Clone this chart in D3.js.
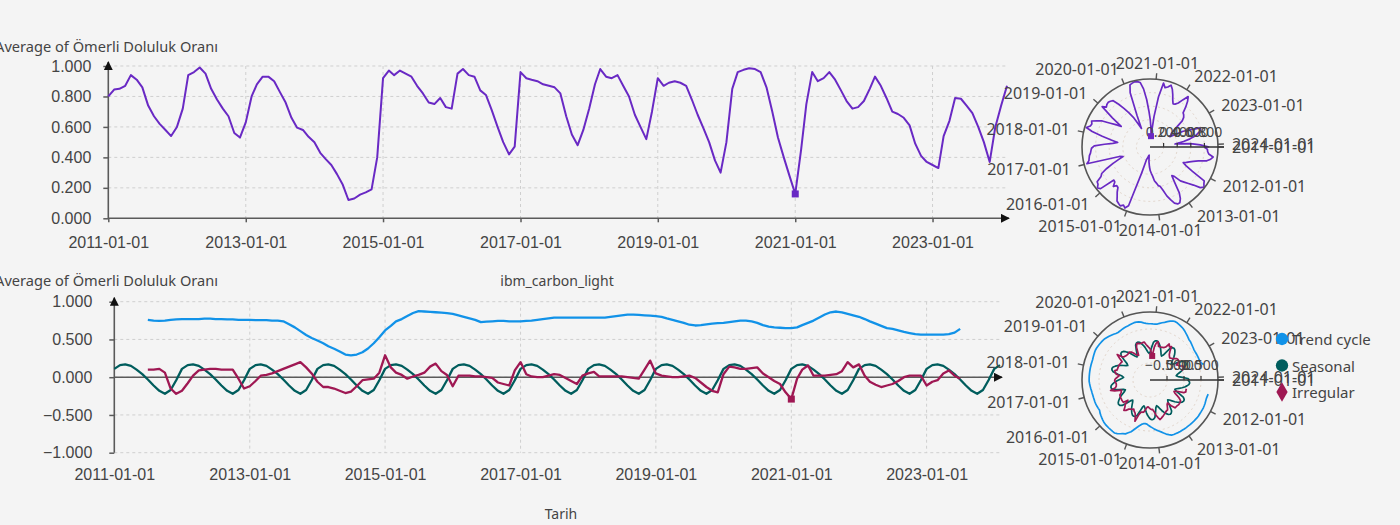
<!DOCTYPE html>
<html>
<head>
<meta charset="utf-8">
<script src="https://cdn.jsdelivr.net/npm/d3@7"></script>
<style>
  html, body { margin: 0; padding: 0; background: #f4f4f4; }
  svg { display: block; font-family: "Noto Sans", "Open Sans", sans-serif; }
</style>
</head>
<body>
<svg id="chart" width="1400" height="525"></svg>
<script>
// ---- Data -------------------------------------------------------------
// Monthly reservoir fill ratio, 2011-01 .. 2024-02
const doluluk = [
  0.80, 0.845, 0.85, 0.87, 0.94, 0.91, 0.86, 0.74, 0.67, 0.62, 0.58, 0.54,   // 2011
  0.60, 0.72, 0.94, 0.96, 0.99, 0.95, 0.85, 0.78, 0.72, 0.67, 0.56, 0.53,    // 2012
  0.63, 0.80, 0.88, 0.93, 0.93, 0.90, 0.83, 0.76, 0.66, 0.595, 0.58, 0.535,  // 2013
  0.50, 0.43, 0.39, 0.35, 0.29, 0.22, 0.12, 0.13, 0.155, 0.17, 0.19, 0.40,   // 2014
  0.92, 0.97, 0.94, 0.97, 0.95, 0.93, 0.87, 0.82, 0.76, 0.75, 0.79, 0.73,    // 2015
  0.72, 0.95, 0.98, 0.94, 0.93, 0.84, 0.81, 0.71, 0.60, 0.50, 0.42, 0.47,    // 2016
  0.96, 0.92, 0.91, 0.90, 0.88, 0.87, 0.86, 0.82, 0.67, 0.55, 0.48, 0.58,    // 2017
  0.72, 0.88, 0.98, 0.93, 0.92, 0.94, 0.87, 0.80, 0.68, 0.60, 0.52, 0.70,    // 2018
  0.92, 0.87, 0.89, 0.90, 0.89, 0.87, 0.78, 0.68, 0.59, 0.50, 0.38, 0.30,    // 2019
  0.50, 0.85, 0.96, 0.975, 0.985, 0.98, 0.96, 0.86, 0.70, 0.53, 0.40, 0.28,  // 2020
  0.16, 0.45, 0.75, 0.96, 0.90, 0.92, 0.96, 0.91, 0.84, 0.77, 0.72, 0.73,    // 2021
  0.77, 0.85, 0.93, 0.87, 0.79, 0.70, 0.685, 0.66, 0.61, 0.49, 0.41, 0.37,   // 2022
  0.35, 0.33, 0.54, 0.64, 0.79, 0.785, 0.74, 0.69, 0.60, 0.50, 0.37, 0.60,   // 2023
  0.74, 0.87                                                                 // 2024
];

// Decomposition: trend cycle, 2011-07 .. 2023-07
const trendCycle = [
  0.76, 0.75, 0.745, 0.75, 0.76, 0.765,
  0.77, 0.77, 0.77, 0.77, 0.775, 0.775, 0.77, 0.77, 0.765, 0.765, 0.76, 0.76,
  0.76, 0.755, 0.755, 0.755, 0.75, 0.75, 0.74, 0.70, 0.66, 0.61, 0.56, 0.52,
  0.486, 0.45, 0.41, 0.376, 0.34, 0.30, 0.29, 0.30, 0.33, 0.38, 0.45, 0.53,
  0.62, 0.68, 0.74, 0.77, 0.81, 0.85, 0.875, 0.87, 0.865, 0.86, 0.855, 0.85,
  0.84, 0.82, 0.80, 0.78, 0.76, 0.73, 0.735, 0.74, 0.745, 0.745, 0.74, 0.74,
  0.74, 0.745, 0.75, 0.76, 0.77, 0.78, 0.79, 0.79, 0.79, 0.79, 0.79, 0.79,
  0.79, 0.79, 0.79, 0.79, 0.80, 0.81, 0.82, 0.83, 0.83, 0.825, 0.82, 0.815,
  0.81, 0.80, 0.78, 0.76, 0.74, 0.72, 0.695, 0.685, 0.69, 0.70, 0.71, 0.715,
  0.72, 0.73, 0.74, 0.75, 0.75, 0.74, 0.72, 0.69, 0.67, 0.66, 0.655, 0.65,
  0.65, 0.66, 0.69, 0.72, 0.75, 0.79, 0.83, 0.86, 0.87, 0.86, 0.84, 0.82,
  0.80, 0.77, 0.74, 0.71, 0.68, 0.65, 0.64, 0.62, 0.60, 0.585, 0.57, 0.565,
  0.565, 0.565, 0.565, 0.565, 0.57, 0.59, 0.64
];

// Decomposition: seasonal, 2011-01 .. 2024-02
const seasonal = [
  0.11, 0.16, 0.17, 0.15, 0.10, 0.04, -0.03, -0.11, -0.18, -0.22, -0.17, -0.04,
  0.11, 0.16, 0.17, 0.15, 0.10, 0.04, -0.03, -0.11, -0.18, -0.22, -0.17, -0.04,
  0.11, 0.16, 0.17, 0.15, 0.10, 0.04, -0.03, -0.11, -0.18, -0.22, -0.17, -0.04,
  0.11, 0.16, 0.17, 0.15, 0.10, 0.04, -0.03, -0.11, -0.18, -0.22, -0.17, -0.04,
  0.11, 0.16, 0.17, 0.15, 0.10, 0.04, -0.03, -0.11, -0.18, -0.22, -0.17, -0.04,
  0.11, 0.16, 0.17, 0.15, 0.10, 0.04, -0.03, -0.11, -0.18, -0.22, -0.17, -0.04,
  0.11, 0.16, 0.17, 0.15, 0.10, 0.04, -0.03, -0.11, -0.18, -0.22, -0.17, -0.04,
  0.11, 0.16, 0.17, 0.15, 0.10, 0.04, -0.03, -0.11, -0.18, -0.22, -0.17, -0.04,
  0.11, 0.16, 0.17, 0.15, 0.10, 0.04, -0.03, -0.11, -0.18, -0.22, -0.17, -0.04,
  0.11, 0.16, 0.17, 0.15, 0.10, 0.04, -0.03, -0.11, -0.18, -0.22, -0.17, -0.04,
  0.11, 0.16, 0.17, 0.15, 0.10, 0.04, -0.03, -0.11, -0.18, -0.22, -0.17, -0.04,
  0.11, 0.16, 0.17, 0.15, 0.10, 0.04, -0.03, -0.11, -0.18, -0.22, -0.17, -0.04,
  0.11, 0.16, 0.17, 0.15, 0.10, 0.04, -0.03, -0.11, -0.18, -0.22, -0.17, -0.04,
  0.11, 0.16
];

// Decomposition: irregular, 2011-07 .. 2023-07
const irregular = [
  0.10, 0.10, 0.11, 0.06, -0.15, -0.22,
  -0.18, -0.08, 0.02, 0.09, 0.10, 0.11, 0.11, 0.10, 0.10, 0.10, -0.02, -0.15,
  -0.12, -0.05, 0.02, 0.03, 0.05, 0.08, 0.11, 0.14, 0.17, 0.20, 0.13, 0.05,
  -0.06, -0.13, -0.13, -0.15, -0.18, -0.21, -0.19, -0.12, -0.04, -0.03, -0.02, 0.06,
  0.29, 0.13, 0.06, 0.03, -0.02, 0.01, 0.03, 0.06, 0.14, 0.18, 0.08, 0.03,
  -0.12, 0.02, 0.02, 0.02, 0.01, 0.01, 0.00, -0.01, -0.07, -0.09, -0.11, 0.09,
  0.20, 0.04, 0.01, 0.00, 0.00, 0.02, 0.04, 0.03, -0.01, -0.05, -0.09, 0.02,
  0.05, 0.07, 0.01, 0.01, 0.01, 0.01, 0.01, 0.00, -0.01, -0.02, 0.10, 0.22,
  0.05, 0.02, 0.01, 0.00, 0.00, 0.01, 0.02, -0.01, -0.07, -0.13, -0.18, -0.20,
  0.04, 0.14, 0.13, 0.11, 0.11, 0.12, 0.13, 0.05, 0.00, -0.05, -0.09, -0.20,
  -0.29, -0.02, 0.10, 0.155, 0.02, 0.02, 0.02, 0.03, 0.04, 0.08, 0.20, 0.13,
  0.17, 0.02, -0.06, -0.10, -0.13, -0.11, -0.09, -0.05, 0.00, 0.02, 0.02, 0.02,
  -0.11, -0.06, -0.04, 0.05, 0.09, 0.02, -0.02
];

const xTickLabels = ["2011-01-01", "2013-01-01", "2015-01-01", "2017-01-01", "2019-01-01", "2021-01-01", "2023-01-01"];
const yTicksTop = [0, 0.2, 0.4, 0.6, 0.8, 1.0];
const yTicksBottom = [-1, -0.5, 0, 0.5, 1];
const polarYearLabels = ["2011-01-01", "2012-01-01", "2013-01-01", "2014-01-01", "2015-01-01", "2016-01-01",
  "2017-01-01", "2018-01-01", "2019-01-01", "2020-01-01", "2021-01-01", "2022-01-01", "2023-01-01", "2024-01-01"];
const polarRadialTop = [0.2, 0.4, 0.6, 0.8];
const polarRadialBottom = [-0.5, 0, 0.5];
const legendLabels = ["Trend cycle", "Seasonal", "Irregular"];
const markedDate = "2021-01-01";

// ---- Setup --------------------------------------------------------------
const parse = d3.utcParse("%Y-%m-%d");
const fmtDate = d3.utcFormat("%Y-%m-%d");
const fmtVal = d3.format(".3f");
const months = d3.utcMonth.range(parse("2011-01-01"), parse("2024-03-01"));
const decompMonths = d3.utcMonth.range(parse("2011-07-01"), parse("2023-08-01"));
const timeDomain = [months[0], months[months.length - 1]];

const COLORS = { purple: "#6929c4", trend: "#1192e8", seasonal: "#005d5d", irregular: "#9f1853" };
const TEXT = "#444";
const AXIS = "#5a5a5a";
const GRID = "#cfcfcf";

const zip = (dates, vals) => vals.map((v, i) => ({ date: dates[i], value: v }));
const mainSeries = zip(months, doluluk);
const series = [
  { name: legendLabels[0], color: COLORS.trend, data: zip(decompMonths, trendCycle) },
  { name: legendLabels[1], color: COLORS.seasonal, data: zip(months, seasonal) },
  { name: legendLabels[2], color: COLORS.irregular, data: zip(decompMonths, irregular) }
];

const svg = d3.select("#chart");
const defs = svg.append("defs");
defs.append("marker").attr("id", "arrow").attr("viewBox", "0 0 10 10")
  .attr("refX", 9).attr("refY", 5).attr("markerWidth", 9).attr("markerHeight", 9)
  .attr("markerUnits", "userSpaceOnUse").attr("orient", "auto")
  .append("path").attr("d", "M0,0 L10,5 L0,10 z").attr("fill", "#111");

// ---- Cartesian panels --------------------------------------------------
function cartesian(cfg) {
  const g = svg.append("g");
  const x = d3.scaleUtc().domain(timeDomain).range(cfg.xRange);
  const y = d3.scaleLinear().domain(cfg.yDomain).range(cfg.yRange);
  const tickDates = xTickLabels.map(parse);

  // grid
  g.append("g").selectAll("line").data(cfg.yTicks.filter(v => v !== cfg.yDomain[0] || cfg.gridAtMin))
    .join("line")
    .attr("x1", cfg.xRange[0]).attr("x2", cfg.xRange[1])
    .attr("y1", d => y(d)).attr("y2", d => y(d))
    .attr("stroke", GRID).attr("stroke-dasharray", "3,3");
  g.append("g").selectAll("line").data(tickDates.slice(1))
    .join("line")
    .attr("x1", d => x(d)).attr("x2", d => x(d))
    .attr("y1", cfg.yRange[1]).attr("y2", cfg.yRange[0])
    .attr("stroke", GRID).attr("stroke-dasharray", "3,3");

  // x axis labels
  const xAxis = d3.axisBottom(x).tickValues(tickDates).tickFormat(fmtDate)
    .tickSizeInner(cfg.xTickSize).tickSizeOuter(0).tickPadding(cfg.xPad);
  const gx = g.append("g").attr("transform", `translate(0,${cfg.xAxisY})`).call(xAxis);
  gx.select(".domain").remove();
  gx.selectAll(".tick line").attr("stroke", AXIS).attr("stroke-width", 1.5);
  gx.selectAll(".tick text").attr("fill", TEXT).style("font-size", "16px");

  // y axis
  const yAxis = d3.axisLeft(y).tickValues(cfg.yTicks).tickFormat(fmtVal)
    .tickSizeInner(5).tickSizeOuter(0).tickPadding(cfg.yPad);
  const gy = g.append("g").attr("transform", `translate(${cfg.xRange[0]},0)`).call(yAxis);
  gy.select(".domain").remove();
  gy.selectAll(".tick line").attr("stroke", AXIS).attr("stroke-width", 1.5);
  gy.selectAll(".tick text").attr("fill", TEXT).style("font-size", "16px");

  // axis lines with arrow heads
  g.append("line")
    .attr("x1", cfg.xRange[0]).attr("x2", cfg.xRange[0])
    .attr("y1", cfg.yRange[0]).attr("y2", cfg.yRange[1] - 4)
    .attr("stroke", AXIS).attr("stroke-width", 1.6).attr("marker-end", "url(#arrow)");
  g.append("line")
    .attr("x1", cfg.xRange[0]).attr("x2", cfg.xRange[1] + 2)
    .attr("y1", y(cfg.baseline)).attr("y2", y(cfg.baseline))
    .attr("stroke", AXIS).attr("stroke-width", 1.6).attr("marker-end", "url(#arrow)");

  // y title
  g.append("text").attr("x", 218).attr("y", cfg.titleY)
    .attr("text-anchor", "end").attr("dominant-baseline", "central")
    .attr("fill", TEXT).style("font-size", "14.6px")
    .text("Average of Ömerli Doluluk Oranı");

  const line = d3.line().x(d => x(d.date)).y(d => y(d.value));
  cfg.lines.forEach(s => {
    g.append("path").datum(s.data).attr("d", line)
      .attr("fill", "none").attr("stroke", s.color).attr("stroke-width", s.width)
      .attr("stroke-linejoin", "round");
  });
  const md = parse(markedDate);
  const mk = cfg.marker;
  const mp = mk.data.find(d => +d.date === +md);
  g.append("rect").attr("x", x(mp.date) - 3.5).attr("y", y(mp.value) - 3.5)
    .attr("width", 7).attr("height", 7).attr("fill", mk.color);
  return { x, y };
}

cartesian({
  xRange: [108.3, 1007], yDomain: [0, 1], yRange: [218.3, 66], yTicks: yTicksTop,
  xAxisY: 218.3, xTickSize: 4, xPad: 14, yPad: 12, baseline: 0, titleY: 46,
  lines: [{ data: mainSeries, color: COLORS.purple, width: 2 }],
  marker: { data: mainSeries, color: COLORS.purple }
});

cartesian({
  xRange: [114.3, 1000], yDomain: [-1, 1], yRange: [452.7, 301.7], yTicks: yTicksBottom,
  gridAtMin: true,
  xAxisY: 452.7, xTickSize: 0, xPad: 16, yPad: 17, baseline: 0, titleY: 280,
  lines: series.map(s => ({ data: s.data, color: s.color, width: 2.3 })),
  marker: { data: series[2].data, color: COLORS.irregular }
});

svg.append("text").attr("x", 557).attr("y", 280).attr("text-anchor", "middle")
  .attr("dominant-baseline", "central").attr("fill", TEXT).style("font-size", "14px")
  .text("ibm_carbon_light");
svg.append("text").attr("x", 561).attr("y", 513).attr("text-anchor", "middle")
  .attr("dominant-baseline", "central").attr("fill", TEXT).style("font-size", "14px")
  .text("Tarih");

// ---- Polar panels ----------------------------------------------------------
function polar(cfg) {
  const { cx, cy, r } = cfg;
  const g = svg.append("g").attr("transform", `translate(${cx},${cy})`);
  const angle = d3.scaleUtc().domain(timeDomain).range([0, 2 * Math.PI]);
  const rad = d3.scaleLinear().domain(cfg.rDomain).range([0, r]);

  // grid circles
  g.append("g").selectAll("circle").data(cfg.radialTicks)
    .join("circle").attr("r", d => rad(d)).attr("fill", "none")
    .attr("stroke", "#e2d6cc").attr("stroke-dasharray", "2,3");

  // series
  const line = d3.lineRadial().angle(d => angle(d.date) + Math.PI / 2).radius(d => rad(d.value));
  cfg.lines.forEach(s => {
    g.append("path").datum(s.data).attr("d", line)
      .attr("fill", "none").attr("stroke", s.color).attr("stroke-width", 1.7)
      .attr("stroke-linejoin", "round");
  });

  // outer ring and year ticks
  g.append("circle").attr("r", r).attr("fill", "none").attr("stroke", "#555").attr("stroke-width", 1.6);
  const years = polarYearLabels.map(parse);
  g.append("g").selectAll("line").data(years).join("line")
    .attr("x1", d => r * Math.cos(angle(d))).attr("y1", d => r * Math.sin(angle(d)))
    .attr("x2", d => (r + 6) * Math.cos(angle(d))).attr("y2", d => (r + 6) * Math.sin(angle(d)))
    .attr("stroke", "#555").attr("stroke-width", 1.4);
  g.append("g").selectAll("text").data(years).join("text")
    .attr("x", d => (r + 14) * Math.cos(angle(d)))
    .attr("y", d => (r + 16) * Math.sin(angle(d)))
    .attr("text-anchor", d => {
      const c = Math.cos(angle(d));
      return c > 0.3 ? "start" : c < -0.3 ? "end" : "middle";
    })
    .attr("dominant-baseline", "central").attr("fill", TEXT).style("font-size", "16px")
    .text(d => fmtDate(d));

  // radial axis
  g.append("line").attr("x1", 0).attr("y1", 0).attr("x2", r + 6).attr("y2", 0)
    .attr("stroke", "#333").attr("stroke-width", 1.5);
  g.append("g").selectAll("line").data(cfg.radialTicks).join("line")
    .attr("x1", d => rad(d)).attr("x2", d => rad(d)).attr("y1", 0).attr("y2", -4)
    .attr("stroke", "#333").attr("stroke-width", 1.2);
  g.append("g").selectAll("text").data(cfg.radialTicks).join("text")
    .attr("x", d => rad(d)).attr("y", -16).attr("text-anchor", "middle")
    .attr("dominant-baseline", "central").attr("fill", TEXT).style("font-size", "14px")
    .text(d => fmtVal(d));

  // marked point
  const md = parse(markedDate);
  const mp = cfg.marker.data.find(d => +d.date === +md);
  const a = angle(mp.date), rr = rad(mp.value);
  g.append("rect").attr("x", rr * Math.cos(a) - 3).attr("y", rr * Math.sin(a) - 3)
    .attr("width", 6).attr("height", 6).attr("fill", cfg.marker.color);
}

polar({
  cx: 1150, cy: 147, r: 68, rDomain: [0, 1], radialTicks: polarRadialTop,
  lines: [{ data: mainSeries, color: COLORS.purple }],
  marker: { data: mainSeries, color: COLORS.purple }
});
polar({
  cx: 1150, cy: 380, r: 68, rDomain: [-1, 1], radialTicks: polarRadialBottom,
  lines: series.map(s => ({ data: s.data, color: s.color })),
  marker: { data: series[2].data, color: COLORS.irregular }
});

// ---- Legend ---------------------------------------------------------------
const legend = svg.append("g").attr("transform", "translate(1282,339)");
const items = legend.selectAll("g").data(series).join("g")
  .attr("transform", (d, i) => `translate(0,${i * 26.5})`);
items.append("path")
  .attr("d", (d, i) => d3.symbol().type(i === 2 ? d3.symbolDiamond : d3.symbolCircle).size(i === 2 ? 110 : 120)())
  .attr("fill", d => d.color);
items.append("text").attr("x", 10).attr("dominant-baseline", "central")
  .attr("fill", TEXT).style("font-size", "15px").text(d => d.name);
</script>
</body>
</html>
